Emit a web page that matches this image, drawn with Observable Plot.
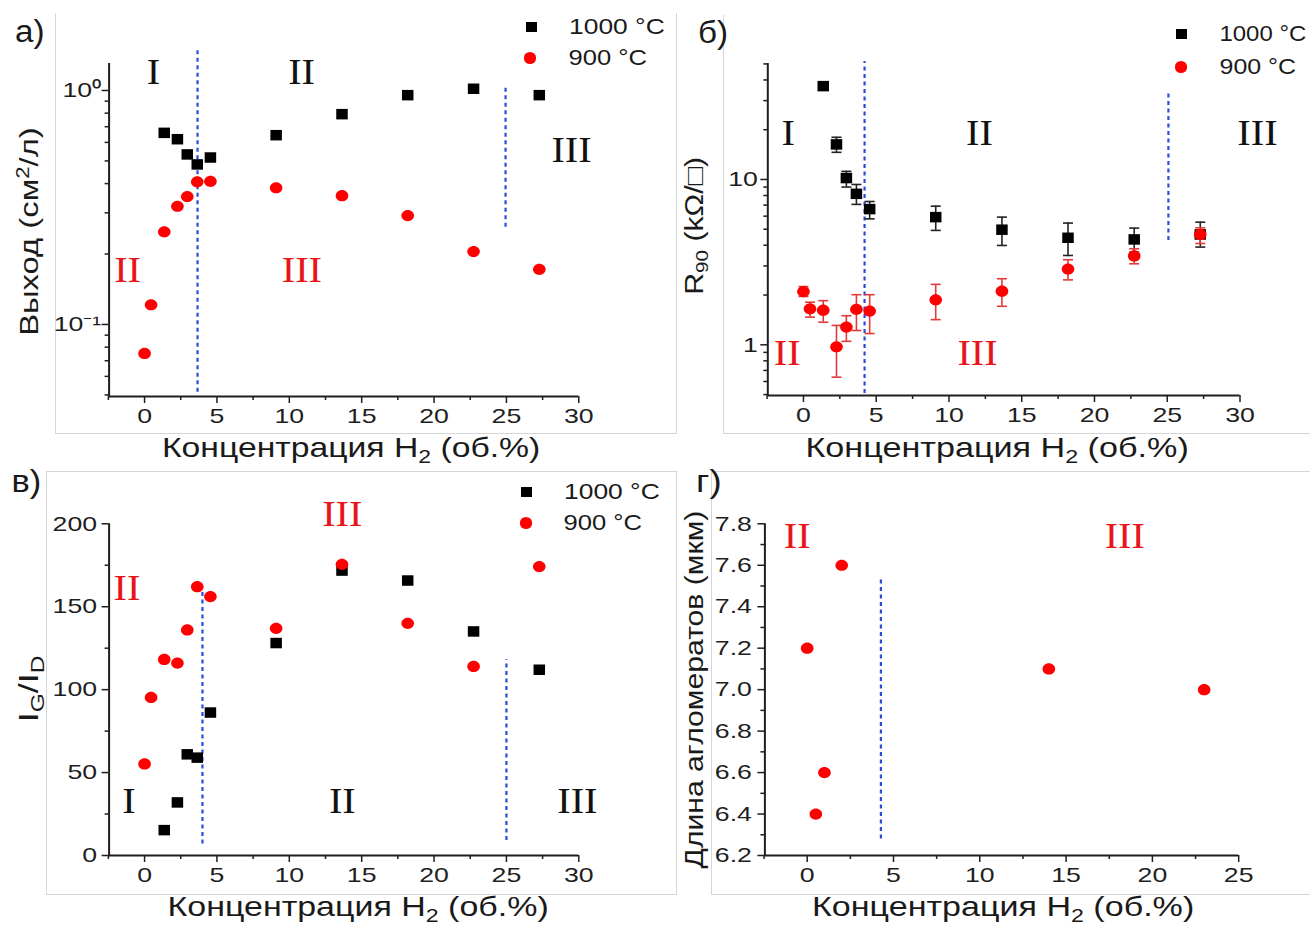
<!DOCTYPE html>
<html><head><meta charset="utf-8">
<script src="https://cdn.jsdelivr.net/npm/d3@7"></script>
<script src="https://cdn.jsdelivr.net/npm/@observablehq/plot@0.6"></script>
<style>
html,body{margin:0;padding:0;background:#fff;}
#page{position:relative;width:1310px;height:925px;overflow:hidden;background:#fff;font-family:"Liberation Sans",Arial,sans-serif;color:#1a1a1a;}
.edge{position:absolute;border:0 solid #d6d6d6;}
.lbl{position:absolute;white-space:nowrap;line-height:1.35;transform-origin:center center;}
.lbl sub{font-size:0.68em;vertical-align:-0.3em;line-height:0;}
.lbl sup{font-size:0.68em;vertical-align:0.5em;line-height:0;}
.plot{position:absolute;overflow:visible;}
.mk{position:absolute;}
</style></head><body><div id="page"></div>
<script>
// ---------------- data ----------------
const h2_900 = [0, 0.45, 1.36, 2.27, 2.95, 3.64, 4.55, 9.09, 13.64, 18.18, 22.73, 27.27];
const h2_1000 = [1.36, 2.27, 2.95, 3.64, 4.55, 9.09, 13.64, 18.18, 22.73, 27.27];
// а) yield, cm2/l
const yield1000 = [0.659, 0.619, 0.533, 0.483, 0.517, 0.644, 0.792, 0.955, 1.017, 0.955];
const yield900 = [0.0752, 0.1214, 0.249, 0.320, 0.352, 0.407, 0.409, 0.384, 0.355, 0.292, 0.205, 0.172];
// б) R90, kOhm/sq
const r90_1000 = [36.7, 16.3, 10.2, 8.19, 6.62, 5.92, 4.97, 4.44, 4.34, 4.65];
const r90_1000Lo = [35.6, 14.6, 9.0, 7.07, 5.78, 4.92, 3.99, 3.47, 3.63, 3.90];
const r90_1000Hi = [37.8, 18.0, 11.2, 9.33, 7.36, 6.9, 5.92, 5.45, 5.08, 5.52];
const r90_900 = [2.10, 1.65, 1.62, 0.973, 1.28, 1.64, 1.60, 1.87, 2.11, 2.87, 3.45, 4.65];
const r90_900Lo = [1.96, 1.47, 1.37, 0.637, 1.05, 1.22, 1.17, 1.42, 1.71, 2.47, 3.09, 4.1];
const r90_900Hi = [2.25, 1.81, 1.85, 1.31, 1.50, 2.01, 2.01, 2.32, 2.51, 3.27, 3.81, 5.1];
// в) IG/ID
const igid1000 = [15.3, 32.0, 61.0, 59.0, 86.2, 128.1, 171.8, 165.8, 135.1, 112.0];
const igid900 = [55.2, 95.3, 118.2, 116.0, 136.0, 162.1, 156.1, 137.0, 175.6, 140.0, 114.0, 174.2];
// г) agglomerate length, um (900 °C)
const aggH2 = [0, 0.5, 1, 2, 14, 23];
const aggLen = [7.2, 6.4, 6.6, 7.6, 7.1, 7.0];
// regime boundaries (dashed lines)
const bndA_x = [3.66, 24.94], bndA_lo = [0.0513, 0.26], bndA_hi = [1.51, 1.03];
const bndB_x = [4.2, 25.08], bndB_lo = [0.507, 4.28], bndB_hi = [51.8, 33.6];
const bndC_x = [4.0, 25.0], bndC_lo = [7, 9], bndC_hi = [159, 118];
const bndD_x = [4.27], bndD_lo = [6.28], bndD_hi = [7.535];
// regime labels
const regA_text = ["I", "II", "III", "II", "III"], regA_x = [0.62, 10.85, 29.5, -1.17, 10.87], regA_y = [1.19, 1.19, 0.554, 0.169, 0.169], regA_red = [0, 0, 0, 1, 1];
const regB_text = ["I", "II", "III", "II", "III"], regB_x = [-1.05, 12.1, 31.2, -1.12, 11.96], regB_y = [19, 19, 19, 0.882, 0.882], regB_red = [0, 0, 0, 1, 1];
const regC_text = ["III", "II", "I", "II", "III"], regC_x = [13.66, -1.22, -1.07, 13.66, 29.9], regC_y = [205.4, 161.1, 32.2, 32.2, 32.2], regC_red = [1, 1, 0, 0, 0];
const regD_text = ["II", "III"], regD_x = [-0.58, 18.4], regD_y = [7.735, 7.735], regD_red = [1, 1];
// ticks
const xMajor30 = [0, 5, 10, 15, 20, 25, 30], xMinor30 = [-2.5, 2.5, 7.5, 12.5, 17.5, 22.5, 27.5];
const xMajor25 = [0, 5, 10, 15, 20, 25], xMinor25 = [-2.5, 2.5, 7.5, 12.5, 17.5, 22.5];
const yMajorA = [0.1, 1], yMinorA = [0.05, 0.06, 0.07, 0.08, 0.09, 0.2, 0.3, 0.4, 0.5, 0.6, 0.7, 0.8, 0.9];
const yMajorB = [1, 10], yMinorB = [0.5, 0.6, 0.7, 0.8, 0.9, 2, 3, 4, 5, 6, 7, 8, 9, 20, 30, 40, 50];
const yMajorC = [0, 50, 100, 150, 200], yMinorC = [25, 75, 125, 175];
const yMajorD = [6.2, 6.4, 6.6, 6.8, 7.0, 7.2, 7.4, 7.6, 7.8], yMinorD = [6.3, 6.5, 6.7, 6.9, 7.1, 7.3, 7.5, 7.7];
const xTitle = "Концентрация H<sub>2</sub> (об.%)";
const legend1000 = "1000 °C", legend900 = "900 °C";

// ---------------- helpers ----------------
const SANS = '"Liberation Sans", Arial, sans-serif';
const SERIF = '"Liberation Serif", "Times New Roman", serif';
const INK = "#1e1e1e", RED = "#ff0000", REDTXT = "#e8141a", BLUE = "#2a4be0", REDBAR = "#e23a3a";
const page = document.getElementById("page");

function ellipse(rx, ry) {
  const k = 0.5523;
  return {draw(c) {
    c.moveTo(rx, 0);
    c.bezierCurveTo(rx, ry * k, rx * k, ry, 0, ry);
    c.bezierCurveTo(-rx * k, ry, -rx, ry * k, -rx, 0);
    c.bezierCurveTo(-rx, -ry * k, -rx * k, -ry, 0, -ry);
    c.bezierCurveTo(rx * k, -ry, rx, -ry * k, rx, 0);
    c.closePath();
  }};
}
function rectSym(w, h) { return {draw(c) { c.rect(-w / 2, -h / 2, w, h); }}; }
const capSym = {draw(c) { c.moveTo(-5, 0); c.lineTo(5, 0); }};
const SQ = rectSym(11.5, 10.5), CI = ellipse(6.3, 5.6);

function rows(xs, ys, lo, hi) { return xs.map((x, i) => ({x, y: ys[i], lo: lo ? lo[i] : null, hi: hi ? hi[i] : null})); }
function regRows(t, x, y, r) { return t.map((s, i) => ({t: s, x: x[i], y: y[i], red: r[i]})); }
function bndRows(x, lo, hi) { return x.map((v, i) => ({x: v, lo: lo[i], hi: hi[i]})); }

function stretch(svg, sel, sx) {
  svg.querySelectorAll(sel).forEach(t => {
    const x = parseFloat(t.getAttribute("x")) || 0;
    const tr = t.getAttribute("transform") || "";
    t.setAttribute("transform", `${tr} translate(${x},0) scale(${sx},1) translate(${-x},0)`);
  });
}

function panel(cfg) {
  const marks = [];
  marks.push(Plot.ruleX(cfg.bnd, {x: "x", y1: "lo", y2: "hi", stroke: BLUE, strokeWidth: 2.2, strokeDasharray: "4,3.5"}));
  marks.push(Plot.axisX({ticks: cfg.xMinor, tickSize: 4, tickFormat: () => "", label: null, strokeWidth: 1.5, stroke: INK}));
  marks.push(Plot.axisX({ticks: cfg.xMajor, tickSize: 7, tickPadding: 5, label: null, fontSize: 21, strokeWidth: 1.5, stroke: INK, fill: INK}));
  marks.push(Plot.axisY({ticks: cfg.yMinor, tickSize: 4, tickFormat: () => "", label: null, strokeWidth: 1.5, stroke: INK}));
  marks.push(Plot.axisY({ticks: cfg.yMajor, tickSize: 7, tickPadding: cfg.yPad, tickFormat: cfg.yFmt, label: null, fontSize: 21, strokeWidth: 1.5, stroke: INK, fill: INK}));
  marks.push(Plot.ruleY([cfg.yDomain[0]], {stroke: INK, strokeWidth: 2}));
  marks.push(Plot.ruleX([cfg.xDomain[0]], {stroke: INK, strokeWidth: 2}));
  marks.push(Plot.text(cfg.reg, {x: "x", y: "y", text: "t", fill: d => d.red ? REDTXT : "#111", fontFamily: SERIF, fontSize: 35}));
  for (const s of cfg.series) {
    if (s.bars) {
      marks.push(Plot.ruleX(s.data, {x: "x", y1: "lo", y2: "hi", stroke: s.bar, strokeWidth: 1.6}));
      marks.push(Plot.dot(s.data, {x: "x", y: "lo", symbol: capSym, stroke: s.bar, strokeWidth: 1.6, fill: "none"}));
      marks.push(Plot.dot(s.data, {x: "x", y: "hi", symbol: capSym, stroke: s.bar, strokeWidth: 1.6, fill: "none"}));
    }
    marks.push(Plot.dot(s.data, {x: "x", y: "y", symbol: s.sym, fill: s.fill, stroke: "none"}));
  }
  const svg = Plot.plot({
    width: cfg.w, height: cfg.h,
    marginLeft: cfg.ml, marginRight: cfg.w - cfg.xr, marginTop: cfg.mt, marginBottom: cfg.h - cfg.yb,
    x: {domain: cfg.xDomain},
    y: {type: cfg.yType || "linear", domain: cfg.yDomain},
    style: {fontFamily: SANS, fontSize: "21px", color: INK, background: "none", overflow: "visible"},
    marks
  });
  stretch(svg, 'g[aria-label$="tick label"] text', 1.27);
  stretch(svg, 'g[aria-label="text"] text', 1.15);
  svg.classList.add("plot");
  svg.style.left = cfg.left + "px";
  svg.style.top = cfg.top + "px";
  page.appendChild(svg);
}

function label(html, cx, cy, o = {}) {
  const el = document.createElement("div");
  el.className = "lbl";
  el.innerHTML = html;
  el.style.fontSize = (o.size || 26) + "px";
  el.style.fontFamily = o.family || SANS;
  el.style.color = o.color || "#1a1a1a";
  page.appendChild(el);
  const w = el.offsetWidth, h = el.offsetHeight;
  const s = o.len ? o.len / w : 1;
  el.style.left = (cx - w / 2) + "px";
  el.style.top = (cy - h / 2) + "px";
  el.style.transform = (o.rotate ? "rotate(-90deg) " : "") + `scaleX(${s})`;
}
function edge(l, t, w, h, sides) {
  const d = document.createElement("div");
  d.className = "edge";
  Object.assign(d.style, {left: l + "px", top: t + "px", width: w + "px", height: h + "px"});
  for (const s of sides) d.style["border" + s + "Width"] = "1px";
  page.appendChild(d);
}
function legendMarks(sqx, sqy, cix, ciy) {
  const a = document.createElement("div");
  a.className = "mk";
  Object.assign(a.style, {left: (sqx - 5.5) + "px", top: (sqy - 5) + "px", width: "11px", height: "10px", background: "#000"});
  const b = document.createElement("div");
  b.className = "mk";
  Object.assign(b.style, {left: (cix - 6.3) + "px", top: (ciy - 5.6) + "px", width: "12.6px", height: "11.2px", background: RED, borderRadius: "50%"});
  page.appendChild(a); page.appendChild(b);
}

// ---------------- frames of the four figure parts ----------------
edge(55, 13, 620, 420, ["Left", "Bottom", "Right"]);
edge(675, -5, 0, 438, []);
edge(723, 15, 600, 418, ["Left", "Bottom"]);
edge(46, 471, 629, 422, ["Left", "Top", "Bottom", "Right"]);
edge(711, 471, 610, 422, ["Left", "Top", "Bottom"]);

// ---------------- panels ----------------
panel({left: 0, top: 0, w: 660, h: 460, ml: 108.6, xr: 578.3, mt: 63, yb: 396,
  xDomain: [-2.45, 30], yDomain: [0.04922, 1.304], yType: "log",
  xMajor: xMajor30, xMinor: xMinor30, yMajor: yMajorA, yMinor: yMinorA, yPad: 1,
  yFmt: d => d === 1 ? "10⁰" : "10⁻¹",
  bnd: bndRows(bndA_x, bndA_lo, bndA_hi), reg: regRows(regA_text, regA_x, regA_y, regA_red),
  series: [{data: rows(h2_1000, yield1000), sym: SQ, fill: "#000"}, {data: rows(h2_900, yield900), sym: CI, fill: RED}]});

panel({left: 660, top: 0, w: 650, h: 460, ml: 107.3, xr: 579.5, mt: 63, yb: 395,
  xDomain: [-2.45, 30], yDomain: [0.4936, 50.3], yType: "log",
  xMajor: xMajor30, xMinor: xMinor30, yMajor: yMajorB, yMinor: yMinorB, yPad: 3,
  yFmt: d => String(d),
  bnd: bndRows(bndB_x, bndB_lo, bndB_hi), reg: regRows(regB_text, regB_x, regB_y, regB_red),
  series: [{data: rows(h2_1000, r90_1000, r90_1000Lo, r90_1000Hi), sym: SQ, fill: "#000", bars: true, bar: "#222"},
           {data: rows(h2_900, r90_900, r90_900Lo, r90_900Hi), sym: CI, fill: RED, bars: true, bar: REDBAR}]});

panel({left: 0, top: 460, w: 660, h: 465, ml: 108.6, xr: 578.3, mt: 63.3, yb: 395,
  xDomain: [-2.45, 30], yDomain: [0, 200],
  xMajor: xMajor30, xMinor: xMinor30, yMajor: yMajorC, yMinor: yMinorC, yPad: 5,
  yFmt: d => String(d),
  bnd: bndRows(bndC_x, bndC_lo, bndC_hi), reg: regRows(regC_text, regC_x, regC_y, regC_red),
  series: [{data: rows(h2_1000, igid1000), sym: SQ, fill: "#000"}, {data: rows(h2_900, igid900), sym: CI, fill: RED}]});

panel({left: 660, top: 460, w: 650, h: 465, ml: 104.4, xr: 578.2, mt: 63.3, yb: 395,
  xDomain: [-2.45, 25], yDomain: [6.2, 7.8],
  xMajor: xMajor25, xMinor: xMinor25, yMajor: yMajorD, yMinor: yMinorD, yPad: 6,
  yFmt: d => d.toFixed(1),
  bnd: bndRows(bndD_x, bndD_lo, bndD_hi), reg: regRows(regD_text, regD_x, regD_y, regD_red),
  series: [{data: rows(aggH2, aggLen), sym: CI, fill: RED}]});

// ---------------- titles, axis titles, legends ----------------
label("а)", 30, 32, {size: 31, len: 30});
label("б)", 713, 33, {size: 31, len: 30});
label("в)", 26, 482, {size: 31, len: 30});
label("г)", 709, 482, {size: 31, len: 26});

label(xTitle, 351, 448, {size: 28, len: 378});
label(xTitle, 997, 448, {size: 28, len: 383});
label(xTitle, 358, 907, {size: 28, len: 381});
label(xTitle, 1003, 907, {size: 28, len: 382});

label("Выход (см<sup>2</sup>/л)", 29, 231, {size: 26, len: 208, rotate: true});
label("R<sub>90</sub> (kΩ/□)", 695, 226, {size: 25, len: 138, rotate: true});
label("I<sub>G</sub>/I<sub>D</sub>", 29, 689, {size: 28, len: 67, rotate: true});
label("Длина агломератов (мкм)", 694, 689, {size: 26, len: 358, rotate: true});

legendMarks(531, 27, 530, 58);
label(legend1000, 616.5, 27, {size: 22, len: 96});
label(legend900, 608, 58, {size: 22, len: 79});
legendMarks(1181, 34, 1181, 67);
label(legend1000, 1263, 34, {size: 22, len: 87});
label(legend900, 1258, 67, {size: 22, len: 77});
legendMarks(526, 492, 526, 523);
label(legend1000, 612, 492, {size: 22, len: 96});
label(legend900, 603, 523, {size: 22, len: 79});
</script></body></html>
